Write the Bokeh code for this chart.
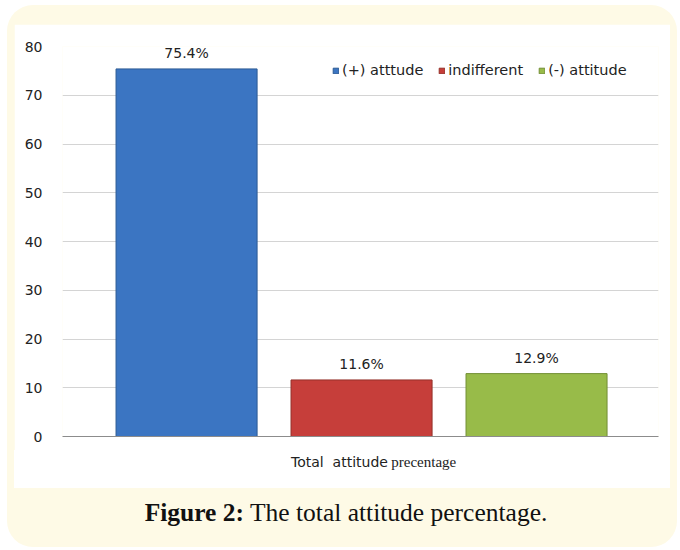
from bokeh.plotting import figure
from bokeh.models import (Range1d, ColumnDataSource, LabelSet, Legend, LegendItem,
                          FixedTicker, Div, Column)
from bokeh.core.properties import value
from bokeh.embed import file_html
from bokeh.resources import INLINE

# ---- data ----
categories = ["(+) atttude", "indifferent", "(-) attitude"]
values = [75.4, 11.6, 12.9]
labels = ["75.4%", "11.6%", "12.9%"]
colors = ["#3b75c2", "#c63e3a", "#98bb49"]
outline = ["#2c5a94", "#943029", "#738f35"]
positions = [0, 1, 2]
y_ticks = [0, 10, 20, 30, 40, 50, 60, 70, 80]
x_title_a = "Total&nbsp; attitude"
x_title_b = "precentage"
caption_bold = "Figure 2:"
caption_rest = " The total attitude percentage."

FONT = "DejaVu Sans"

src = ColumnDataSource(dict(x=positions, top=values, lab=labels))

p = figure(width=656, height=426, output_backend="svg", toolbar_location=None,
           x_range=Range1d(-0.709, 2.697), y_range=Range1d(0, 80),
           min_border_left=48, min_border_right=12, min_border_top=22,
           min_border_bottom=14, margin=(19, 0, 0, 7))
p.background_fill_color = "white"
p.border_fill_color = "white"
p.outline_line_color = None

renderers = []
for i in range(len(categories)):
    r = p.vbar(x=[positions[i]], top=[values[i]], bottom=0, width=0.806,
               fill_color=colors[i], line_color=outline[i], line_width=1)
    renderers.append(r)

ls = LabelSet(x="x", y="top", text="lab", source=src, y_offset=8,
              text_align="center", text_baseline="bottom",
              text_font=value(FONT), text_font_size="14px", text_color="#222222")
p.add_layout(ls)

# axes
p.yaxis.ticker = FixedTicker(ticks=y_ticks)
p.yaxis.axis_line_color = None
p.yaxis.major_tick_line_color = None
p.yaxis.minor_tick_line_color = None
p.yaxis.major_label_text_font = FONT
p.yaxis.major_label_text_font_size = "14px"
p.yaxis.major_label_text_color = "#222222"
p.yaxis.major_label_standoff = 14

p.xaxis.ticker = FixedTicker(ticks=[])
p.xaxis.axis_line_color = "#8c8c8c"
p.xaxis.major_tick_line_color = None
p.xaxis.minor_tick_line_color = None
p.xaxis.major_tick_out = 0

p.xgrid.grid_line_color = None
p.ygrid.grid_line_color = "#d4d4d4"
p.ygrid.ticker = FixedTicker(ticks=y_ticks)

legend = Legend(items=[LegendItem(label=categories[i], renderers=[renderers[i]])
                       for i in range(len(categories))],
                orientation="horizontal", location=(270, 358),
                glyph_width=7, glyph_height=7, label_standoff=3, spacing=15,
                padding=0, margin=0, border_line_color=None,
                background_fill_alpha=0, label_text_font=FONT,
                label_text_font_size="14.5px", label_text_color="#222222")
p.add_layout(legend)

# x-axis title, in two fonts as in the original
xtitle = Div(text=(f'<span style="font-family:\'DejaVu Sans\';font-size:14px">{x_title_a}</span> '
                   f'<span style="font-family:\'Liberation Serif\';font-size:15px">{x_title_b}</span>'),
             width=656, height=38, margin=(0, 0, 0, 7),
             styles={"background-color": "white", "color": "#222222",
                     "line-height": "24px", "padding-left": "277px",
                     "width": "656px", "height": "38px", "white-space": "nowrap"})

cap = Div(text=f"<b>{caption_bold}</b>{caption_rest}", width=656, height=50,
          margin=(0, 0, 0, 7),
          styles={"font-family": "Liberation Serif", "font-size": "25.5px",
                  "text-align": "center", "color": "#111111",
                  "padding-top": "7px", "padding-left": "8px", "width": "656px"})

layout = Column(children=[p, xtitle, cap], width=670, height=542, margin=(5, 3, 3, 7),
                styles={"background-color": "#fefae6", "border-radius": "26px"})

open("out.html", "w").write(file_html(layout, INLINE))
